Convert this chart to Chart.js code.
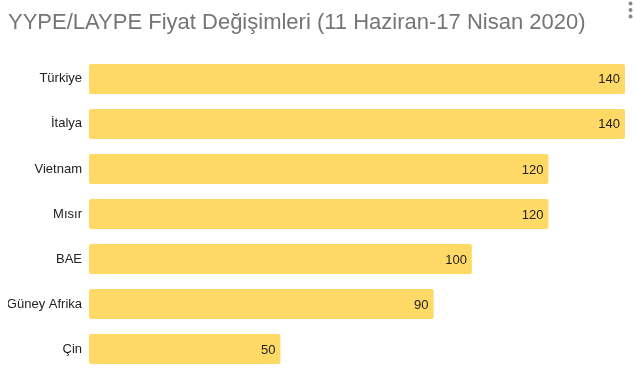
<!DOCTYPE html>
<html>
<head>
<meta charset="utf-8">
<script src="https://cdn.jsdelivr.net/npm/chart.js@4"></script>
<style>
  html, body { margin: 0; padding: 0; background: #fff; }
  #wrap { width: 635px; height: 388px; position: relative; }
</style>
</head>
<body>
<div id="wrap"><canvas id="priceChart"></canvas></div>
<script>
const countries = ['Türkiye', 'İtalya', 'Vietnam', 'Mısır', 'BAE', 'Güney Afrika', 'Çin'];
const changes = [140, 140, 120, 120, 100, 90, 50];
const chartTitle = 'YYPE/LAYPE Fiyat Değişimleri (11 Haziran-17 Nisan 2020)';

const fontFamily = '"Liberation Sans", Arial, sans-serif';

// value labels drawn at the inner end of each bar
const valueLabels = {
  id: 'valueLabels',
  afterDatasetsDraw(chart) {
    const ctx = chart.ctx;
    const meta = chart.getDatasetMeta(0);
    ctx.save();
    ctx.font = '13px ' + fontFamily;
    ctx.fillStyle = '#222222';
    ctx.textAlign = 'right';
    ctx.textBaseline = 'middle';
    meta.data.forEach((bar, i) => {
      ctx.fillText(String(changes[i]), bar.x - 5, bar.y + 1);
    });
    ctx.restore();
  }
};

// the little menu dots top right
const menuDots = {
  id: 'menuDots',
  afterDraw(chart) {
    const ctx = chart.ctx;
    ctx.save();
    ctx.fillStyle = '#8a8a8a';
    [3.5, 10, 16.5].forEach(y => {
      ctx.beginPath();
      ctx.arc(630.5, y, 2, 0, Math.PI * 2);
      ctx.fill();
    });
    ctx.restore();
  }
};

new Chart(document.getElementById('priceChart').getContext('2d'), {
  type: 'bar',
  data: {
    labels: countries,
    datasets: [{
      data: changes,
      backgroundColor: '#FFD966',
      borderRadius: 2,
      borderSkipped: false,
      barPercentage: 0.667,
      categoryPercentage: 1
    }]
  },
  options: {
    indexAxis: 'y',
    responsive: true,
    maintainAspectRatio: false,
    animation: false,
    layout: { padding: { left: 8, right: 10, top: 0, bottom: 16.5 } },
    plugins: {
      legend: { display: false },
      tooltip: { enabled: false },
      title: {
        display: true,
        text: chartTitle,
        align: 'start',
        color: '#757575',
        font: { family: fontFamily, size: 22, weight: 'normal' },
        padding: { top: 10, bottom: 20 }
      }
    },
    scales: {
      x: {
        display: false,
        min: 0,
        max: 140
      },
      y: {
        grid: { display: false, drawTicks: false },
        border: { display: false },
        ticks: {
          color: '#222222',
          font: { family: fontFamily, size: 13 },
          padding: 7
        },
        afterFit(scale) { scale.width = 81; }
      }
    }
  },
  plugins: [valueLabels, menuDots]
});
</script>
</body>
</html>
